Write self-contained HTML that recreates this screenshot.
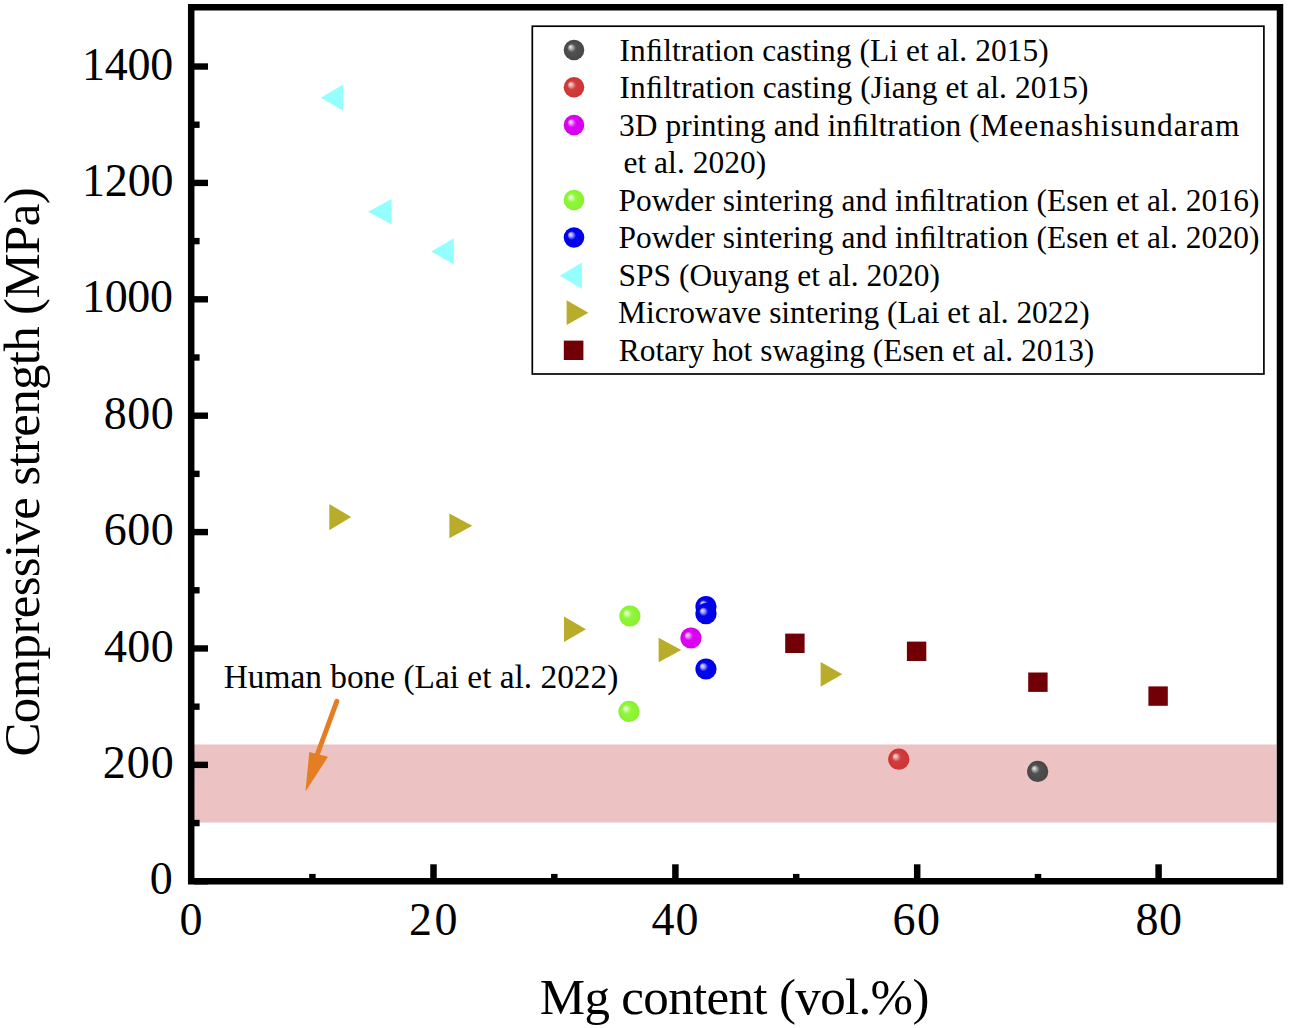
<!DOCTYPE html>
<html><head><meta charset="utf-8">
<style>
html,body{margin:0;padding:0;background:#fff;width:1289px;height:1028px;overflow:hidden}
svg{display:block}
text{font-family:"Liberation Serif",serif;fill:#000}
</style></head>
<body>
<svg width="1289" height="1028" viewBox="0 0 1289 1028">
<defs>
<radialGradient id="gGray" cx="0.5" cy="0.5" r="0.5" fx="0.31" fy="0.34">
<stop offset="0" stop-color="#F4F4F4"/><stop offset="0.2" stop-color="#A8A8A8"/><stop offset="0.42" stop-color="#505050"/><stop offset="1" stop-color="#474747"/></radialGradient>
<radialGradient id="gRed" cx="0.5" cy="0.5" r="0.5" fx="0.31" fy="0.34">
<stop offset="0" stop-color="#FCEDED"/><stop offset="0.2" stop-color="#E8A0A0"/><stop offset="0.42" stop-color="#D23C3C"/><stop offset="1" stop-color="#CC3434"/></radialGradient>
<radialGradient id="gMag" cx="0.5" cy="0.5" r="0.5" fx="0.31" fy="0.34">
<stop offset="0" stop-color="#F6E6FC"/><stop offset="0.2" stop-color="#E888F8"/><stop offset="0.42" stop-color="#DC02F4"/><stop offset="1" stop-color="#D500EC"/></radialGradient>
<radialGradient id="gGreen" cx="0.5" cy="0.5" r="0.5" fx="0.31" fy="0.34">
<stop offset="0" stop-color="#F4FFEE"/><stop offset="0.2" stop-color="#C8FCA4"/><stop offset="0.42" stop-color="#90F838"/><stop offset="1" stop-color="#88F030"/></radialGradient>
<radialGradient id="gBlue" cx="0.5" cy="0.5" r="0.5" fx="0.31" fy="0.34">
<stop offset="0" stop-color="#ECECFF"/><stop offset="0.2" stop-color="#9C9CF8"/><stop offset="0.42" stop-color="#0404EE"/><stop offset="1" stop-color="#0000E4"/></radialGradient>
</defs>

<!-- human bone band -->
<rect x="194" y="744.5" width="1082.5" height="78" fill="#ECC2C3"/>

<!-- axis frame -->
<rect x="191.2" y="7.25" width="1088.8" height="874" fill="none" stroke="#000" stroke-width="6.5"/>

<!-- y ticks -->
<g stroke="#000" stroke-width="6.4">
<line x1="194" y1="881.25" x2="208" y2="881.25"/>
<line x1="194" y1="764.86" x2="208" y2="764.86"/>
<line x1="194" y1="648.47" x2="208" y2="648.47"/>
<line x1="194" y1="532.08" x2="208" y2="532.08"/>
<line x1="194" y1="415.69" x2="208" y2="415.69"/>
<line x1="194" y1="299.30" x2="208" y2="299.30"/>
<line x1="194" y1="182.91" x2="208" y2="182.91"/>
<line x1="194" y1="66.52" x2="208" y2="66.52"/>
<line x1="194" y1="823.05" x2="199.6" y2="823.05"/>
<line x1="194" y1="706.66" x2="199.6" y2="706.66"/>
<line x1="194" y1="590.27" x2="199.6" y2="590.27"/>
<line x1="194" y1="473.88" x2="199.6" y2="473.88"/>
<line x1="194" y1="357.49" x2="199.6" y2="357.49"/>
<line x1="194" y1="241.10" x2="199.6" y2="241.10"/>
<line x1="194" y1="124.71" x2="199.6" y2="124.71"/>
</g>
<!-- x ticks -->
<g stroke="#000" stroke-width="6.5">
<line x1="433.5" y1="878" x2="433.5" y2="864.3"/>
<line x1="675.4" y1="878" x2="675.4" y2="864.3"/>
<line x1="917.2" y1="878" x2="917.2" y2="864.3"/>
<line x1="1158.6" y1="878" x2="1158.6" y2="864.3"/>
<line x1="312.4" y1="878" x2="312.4" y2="873.9"/>
<line x1="554.3" y1="878" x2="554.3" y2="873.9"/>
<line x1="796.2" y1="878" x2="796.2" y2="873.9"/>
<line x1="1038" y1="878" x2="1038" y2="873.9"/>
</g>

<!-- y labels -->
<g font-size="46">
<text x="149.7" y="894.3">0</text>
<text x="102.7" y="777.9" textLength="71.0" lengthAdjust="spacing">200</text>
<text x="103.9" y="661.5" textLength="69.9" lengthAdjust="spacing">400</text>
<text x="103.7" y="545.1" textLength="70.1" lengthAdjust="spacing">600</text>
<text x="103.7" y="428.7" textLength="70.1" lengthAdjust="spacing">800</text>
<text x="81.9" y="312.3" textLength="91.2" lengthAdjust="spacing">1000</text>
<text x="81.9" y="195.9" textLength="91.7" lengthAdjust="spacing">1200</text>
<text x="82" y="79.5" textLength="91.2" lengthAdjust="spacing">1400</text>
</g>
<!-- x labels -->
<g font-size="46">
<text x="179.5" y="934.5">0</text>
<text x="409" y="934.5" textLength="48.5" lengthAdjust="spacing">20</text>
<text x="651.4" y="934.5" textLength="47.2" lengthAdjust="spacing">40</text>
<text x="892.5" y="934.5" textLength="47.4" lengthAdjust="spacing">60</text>
<text x="1135.4" y="934.5" textLength="46.6" lengthAdjust="spacing">80</text>
</g>

<!-- axis titles -->
<text x="539.7" y="1014" font-size="51" textLength="389.73" lengthAdjust="spacing">Mg content (vol.%)</text>
<text x="0" y="0" font-size="51" textLength="569.2" lengthAdjust="spacing" transform="translate(39.4,756.5) rotate(-90)">Compressive strength (MPa)</text>

<!-- annotation -->
<text x="223.7" y="687.5" font-size="33.4" textLength="394.6" lengthAdjust="spacing">Human bone (Lai et al. 2022)</text>
<line x1="336.8" y1="701.3" x2="316" y2="758" stroke="#E57E22" stroke-width="5" stroke-linecap="round"/>
<polygon points="305.5,791.5 309.3,752 328,756.8" fill="#E57E22"/>

<!-- legend -->
<rect x="532.3" y="26.2" width="731.6" height="347.8" fill="none" stroke="#000" stroke-width="1.7"/>
<g font-size="31.4">
<text x="619.4" y="60.7" textLength="429.27" lengthAdjust="spacing">Inﬁltration casting (Li et al. 2015)</text>
<text x="619.4" y="98.2" textLength="469.13" lengthAdjust="spacing">Inﬁltration casting (Jiang et al. 2015)</text>
<text x="619" y="135.7" textLength="342.17" lengthAdjust="spacing">3D printing and inﬁltration</text>
<text x="969" y="135.7" textLength="270.33" lengthAdjust="spacing">(Meenashisundaram</text>
<text x="623.4" y="173.2" textLength="142.89" lengthAdjust="spacing">et al. 2020)</text>
<text x="618.4" y="210.7" textLength="641.02" lengthAdjust="spacing">Powder sintering and inﬁltration (Esen et al. 2016)</text>
<text x="618.4" y="248.2" textLength="641.02" lengthAdjust="spacing">Powder sintering and inﬁltration (Esen et al. 2020)</text>
<text x="618.5" y="285.7" textLength="321.5" lengthAdjust="spacing">SPS (Ouyang et al. 2020)</text>
<text x="618.1" y="323.2" textLength="471.62" lengthAdjust="spacing">Microwave sintering (Lai et al. 2022)</text>
<text x="618.8" y="360.7" textLength="475.53" lengthAdjust="spacing">Rotary hot swaging (Esen et al. 2013)</text>
</g>

<!-- legend markers -->
<circle cx="574" cy="50" r="10.3" fill="url(#gGray)"/>
<circle cx="574" cy="87.3" r="10.3" fill="url(#gRed)"/>
<circle cx="574" cy="125" r="10.3" fill="url(#gMag)"/>
<circle cx="574" cy="200" r="10.3" fill="url(#gGreen)"/>
<circle cx="574" cy="237.5" r="10.3" fill="url(#gBlue)"/>
<polygon points="559.8,275.8 581.9,262.5 581.9,289" fill="#94FFFE"/>
<polygon points="588.4,312.7 566.6,300.3 566.6,325" fill="#B9AC2A"/>
<rect x="563.8" y="340.6" width="19.6" height="19.4" fill="#700005"/>

<!-- series cyan SPS -->
<g fill="#94FFFE">
<polygon points="320.8,97.7 343.2,84.6 343.2,110.7"/>
<polygon points="368,211.8 391.6,199.1 391.6,224.4"/>
<polygon points="431.2,251.4 453.7,238.3 453.7,264.4"/>
</g>
<!-- series olive microwave -->
<g fill="#B9AC2A">
<polygon points="351.2,517.1 329.3,504 329.3,530.2"/>
<polygon points="472.3,525.8 449.4,513.5 449.4,538.2"/>
<polygon points="586,629.3 564,616.5 564,642"/>
<polygon points="681.3,650 658.6,637.8 658.6,662.3"/>
<polygon points="842.3,674.3 820.6,661.9 820.6,686.8"/>
</g>
<!-- series squares -->
<g fill="#700005">
<rect x="785.2" y="633.6" width="19.4" height="19.4"/>
<rect x="906.9" y="641.6" width="19.4" height="19.4"/>
<rect x="1028.2" y="672.5" width="19.4" height="19.4"/>
<rect x="1148.4" y="686.4" width="19.4" height="19.4"/>
</g>
<!-- series spheres -->
<circle cx="629.9" cy="616" r="10.6" fill="url(#gGreen)"/>
<circle cx="629" cy="711.4" r="10.6" fill="url(#gGreen)"/>
<circle cx="706" cy="606.5" r="10.6" fill="url(#gBlue)"/>
<circle cx="706" cy="613.7" r="10.6" fill="url(#gBlue)"/>
<circle cx="706" cy="669" r="10.6" fill="url(#gBlue)"/>
<circle cx="691" cy="638" r="10.6" fill="url(#gMag)"/>
<circle cx="898.8" cy="759.2" r="10.6" fill="url(#gRed)"/>
<circle cx="1037.7" cy="771.4" r="10.6" fill="url(#gGray)"/>
</svg>
</body></html>
